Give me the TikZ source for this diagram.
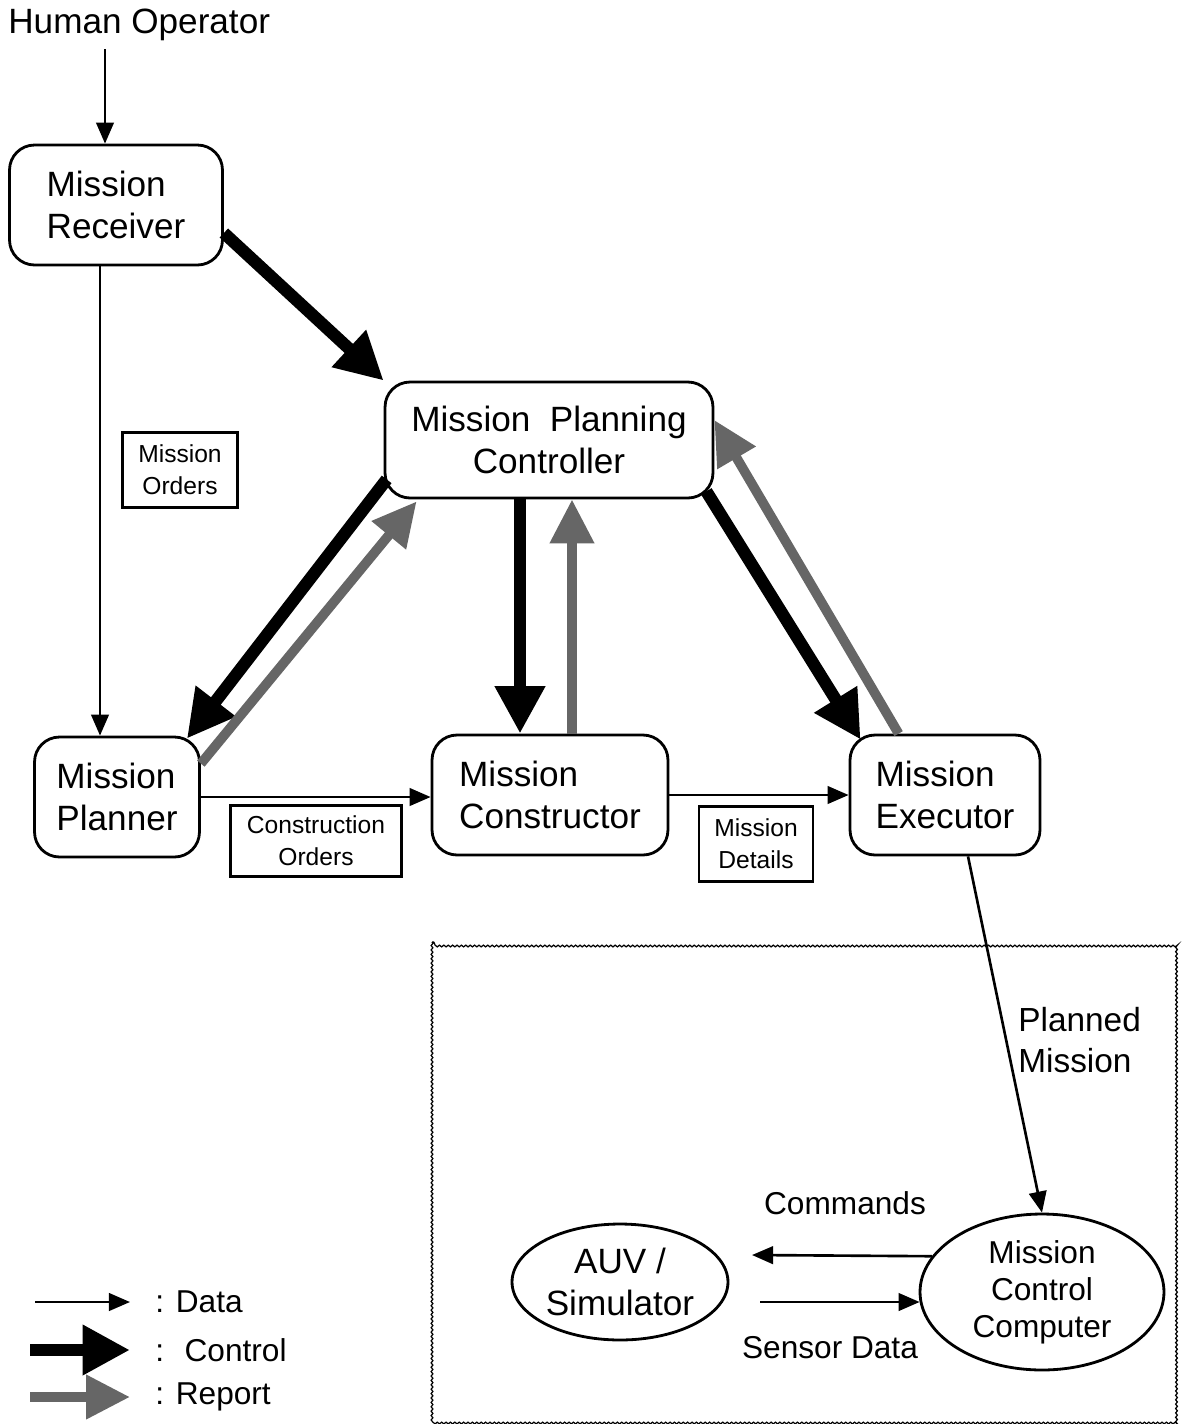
\documentclass[tikz,border=0pt]{standalone}
\usepackage{fontspec}
\setmainfont{Liberation Sans}
\usepackage{tikz}
\usetikzlibrary{arrows.meta,positioning,calc,shapes.geometric,decorations.pathmorphing}
\definecolor{RepGray}{gray}{0.4}

\begin{document}
\begin{tikzpicture}[x=0.02cm,y=-0.02cm,
  blk/.style={draw,line width=1.6pt,rounded corners=0.5cm,align=left,
    inner sep=0pt,font=\fontsize{20}{24}\selectfont},
  oval/.style={draw,ellipse,line width=1.6pt,align=center,inner sep=0pt},
  tag/.style={draw,line width=1.2pt,align=center,inner sep=0pt,
    font=\fontsize{14}{18}\selectfont},
  txt/.style={align=left,inner sep=0pt,font=\fontsize{18}{22}\selectfont},
  data/.style={line width=1.5pt,-{Triangle[length=12pt,width=10pt]}},
  ctrl/.style={line width=7pt,-{Triangle[length=27pt,width=27pt]}},
  rep/.style={RepGray,line width=5.5pt,-{Triangle[length=25pt,width=24pt]}}]
  \useasboundingbox (0,0) rectangle (1182,1424);
  % processes
  \node[txt,anchor=west,font=\fontsize{20}{24}\selectfont] (human) at (8,25) {Human Operator};
  \node[blk,minimum width=4.26cm,minimum height=2.4cm] (receiver) at (116,205) {Mission\\Receiver};
  \node[blk,align=center,minimum width=6.56cm,minimum height=2.32cm] (mpc) at (549,440) {Mission~ Planning\\Controller};
  \node[blk,minimum width=3.3cm,minimum height=2.4cm] (planner) at (117,797) {Mission\\Planner};
  \node[blk,minimum width=4.72cm,minimum height=2.4cm] (constructor) at (550,795) {Mission\\Constructor};
  \node[blk,minimum width=3.8cm,minimum height=2.4cm] (executor) at (945,795) {Mission\\Executor};
  % vehicle side
  \draw[line width=0.7pt,decorate,decoration={snake,amplitude=0.5pt,segment length=2.5pt}]
      (432,942) rectangle (1178,1420);
  \node[oval,inner xsep=-0.45cm,inner ysep=-0.1cm,minimum width=4.32cm,minimum height=2.32cm,
    font=\fontsize{20}{24}\selectfont] (auv) at (620,1282) {AUV /\\Simulator};
  \node[oval,minimum width=4.88cm,minimum height=3.12cm,font=\fontsize{18}{21}\selectfont] (mcc) at (1042,1292) {Mission\\Control\\Computer};
  % flow labels
  \node[tag,minimum width=2.3cm,minimum height=1.5cm] (orders) at (180,470) {Mission\\Orders};
  \node[tag,minimum width=3.42cm,minimum height=1.42cm] (corders) at (316,841) {Construction\\Orders};
  \node[tag,minimum width=2.28cm,minimum height=1.5cm] (details) at (756,844) {Mission\\Details};
  \node[txt,anchor=west,font=\fontsize{19}{23}\selectfont] (planned) at (1018,1040) {Planned\\Mission};
  \node[txt] (cmds) at (845,1203) {Commands};
  \node[txt] (sensor) at (830,1348) {Sensor Data};
  % data
  \coordinate (hop) at ($(receiver.north)+(-11,0)$);
  \draw[data] (hop |- human.south) ++(0,8) -- (hop);
  \coordinate (rpl) at ($(receiver.south)+(-16,0)$);
  \draw[data] (rpl) -- (rpl |- planner.north);
  \draw[data] (planner.east) -- (planner.east -| constructor.west);
  \draw[data] (constructor.east) -- (constructor.east -| executor.west);
  \draw[data] ($(executor.south)+(23,0)$) -- (mcc.north);
  \draw[data] (mcc.162) -- ($(auv.center)+(132,-27)$);
  \draw[data] ($(auv.center)+(140,20)$) -- ($(mcc.west)+(1,10)$);
  % control
  \draw[ctrl] ($(receiver.east)+(0,28)$) -- (mpc.north west);
  \draw[ctrl] ($(mpc.south west)+(3,-20)$) -- ($(planner.north east)+(-14,3)$);
  \coordinate (mco) at ($(mpc.south)+(-29,0)$);
  \draw[ctrl] (mco) -- (mco |- constructor.north);
  \draw[ctrl] ($(mpc.south east)+(-8,-8)$) -- ($(executor.north west)+(12,6)$);
  % report
  \draw[rep] ($(planner.north east)+(0,28)$) -- ($(mpc.south west)+(33,2)$);
  \coordinate (crp) at ($(constructor.north)+(22,0)$);
  \draw[rep] (crp) -- (crp |- mpc.south);
  \draw[rep] ($(executor.north west)+(50,0)$) -- ($(mpc.east)+(0,-20)$);
  % legend
  \coordinate (da) at (35,1302);
  \coordinate (db) at (130,1302);
  \coordinate (ca) at (30,1350);
  \coordinate (cb) at (130,1350);
  \coordinate (ra) at (30,1397);
  \coordinate (rb) at (130,1397);
  \draw[data] (da) -- (db);
  \draw[ctrl] (ca) -- (cb);
  \draw[rep] (ra) -- (rb);
  \node[txt,anchor=west] (ldata) at (155,1302) {: Data};
  \node[txt,anchor=west] (lctrl) at (155,1350) {:~ Control};
  \node[txt,anchor=west] (lrep) at (155,1397) {: Report};
\end{tikzpicture}
\end{document}
